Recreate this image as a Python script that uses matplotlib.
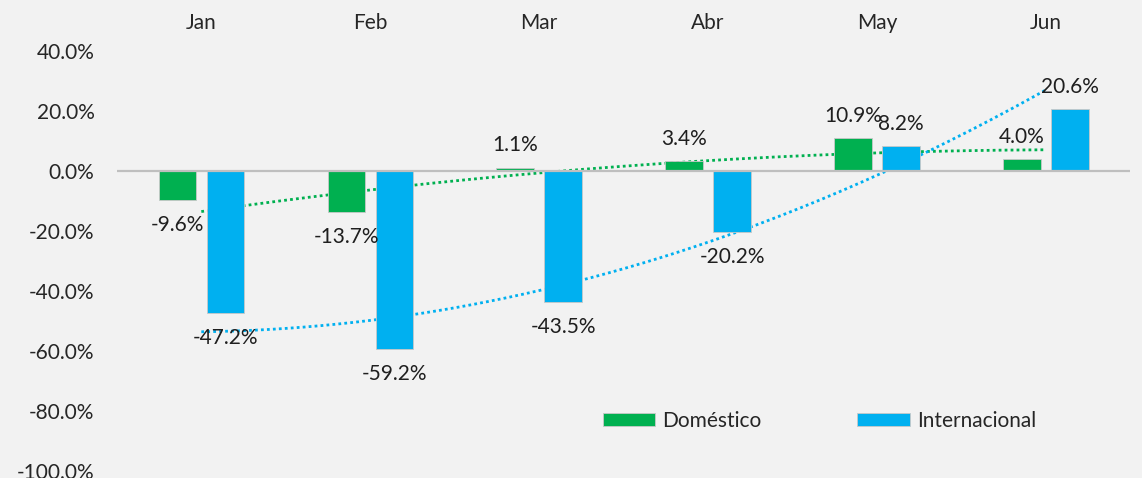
import numpy as np
import matplotlib
matplotlib.use("Agg")
import matplotlib.pyplot as plt
from matplotlib.patches import Patch

months = ["Jan", "Feb", "Mar", "Abr", "May", "Jun"]
domestico = [-9.6, -13.7, 1.1, 3.4, 10.9, 4.0]
internacional = [-47.2, -59.2, -43.5, -20.2, 8.2, 20.6]
yticks = [40, 20, 0, -20, -40, -60, -80, -100]

GREEN = "#00b050"
BLUE = "#00b0f0"
BG = "#f2f2f2"
FS = 15

plt.rcParams["font.family"] = ["Lato", "DejaVu Sans"]

fig = plt.figure(figsize=(11.42, 4.78), dpi=100, facecolor=BG)
ax = fig.add_axes([0.1023, 0.0146, 0.8876, 0.8787], facecolor=BG)

x = np.arange(len(months))
width = 0.2215
off = 0.142

# polynomial (order 2) trendlines, drawn behind the bars
xs = np.linspace(0, len(months) - 1, 200)
for vals, col in [(domestico, GREEN), (internacional, BLUE)]:
    coef = np.polyfit(x, vals, 2)
    ax.plot(xs, np.polyval(coef, xs), color=col, lw=2.0,
            linestyle=(0, (1, 1.15)), zorder=1)

b1 = ax.bar(x - off, domestico, width, color=GREEN, edgecolor="#c8c8c8",
            linewidth=0.6, zorder=2)
b2 = ax.bar(x + off, internacional, width, color=BLUE, edgecolor="#c8c8c8",
            linewidth=0.6, zorder=2)

ax.axhline(0, color="#bfbfbf", lw=1.6, zorder=3)

for bars, vals in [(b1, domestico), (b2, internacional)]:
    for rect, v in zip(bars, vals):
        cx = rect.get_x() + rect.get_width() / 2
        dy = 16 if v >= 0 else -18
        ax.annotate(f"{v:.1f}%", (cx, v), xytext=(0, dy), textcoords="offset points",
                    ha="center", va="center", fontsize=FS, color="#1f1f1f", zorder=4)

ax.set_xlim(-0.5, len(months) - 0.5)
ax.set_ylim(-100, 40)
ax.set_yticks(yticks)
ax.set_yticklabels([f"{t:.1f}%" for t in yticks])
ax.xaxis.tick_top()
ax.set_xticks(x)
ax.set_xticklabels(months)
ax.tick_params(axis="both", length=0, labelsize=FS, colors="#262626")
ax.tick_params(axis="y", pad=16)
ax.tick_params(axis="x", pad=13)
for s in ax.spines.values():
    s.set_visible(False)

handles = [Patch(facecolor=GREEN, edgecolor="#c8c8c8", linewidth=0.6, label="Doméstico"),
           Patch(facecolor=BLUE, edgecolor="#c8c8c8", linewidth=0.6, label="Internacional")]
fig.legend(handles=handles, loc="center left", bbox_to_anchor=(0.528, 0.119),
           ncol=2, frameon=False, fontsize=FS, handlelength=2.5, handleheight=0.6,
           handletextpad=0.35, columnspacing=4.6, borderpad=0, borderaxespad=0,
           labelcolor="#262626")

fig.savefig("out.png", dpi=100, facecolor=BG)
